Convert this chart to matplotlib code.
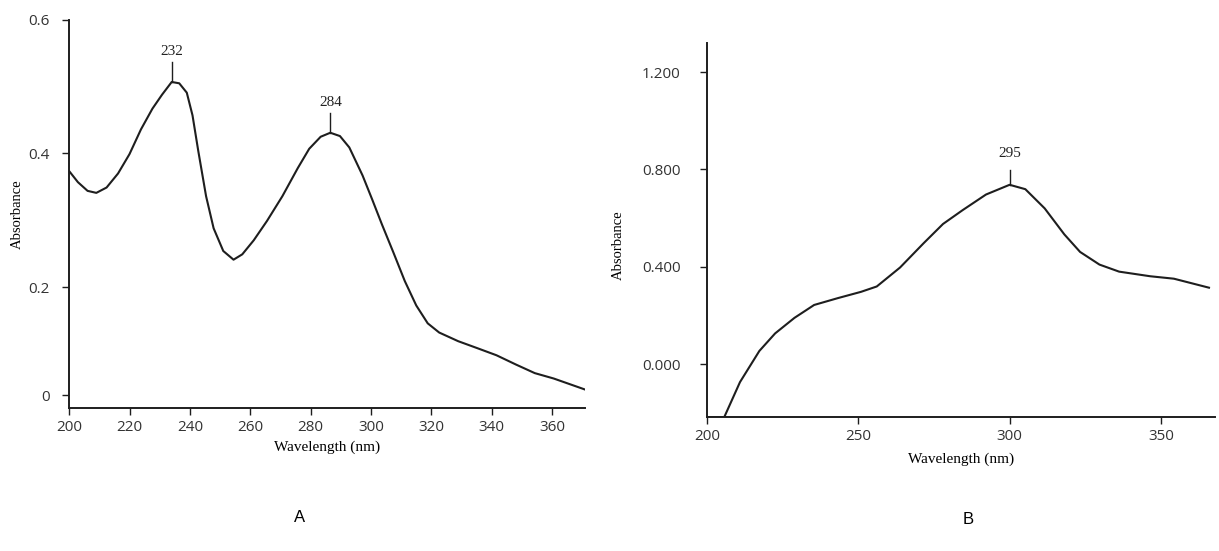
import numpy as np
import matplotlib
matplotlib.use("Agg")
import matplotlib.pyplot as plt

# panel A: spectrum with two maxima
A_WL = [200.0, 202.8, 206.0, 208.9, 212.3, 216.1, 219.9, 223.7, 227.5, 230.7,
        233.9, 236.4, 238.9, 240.8, 242.7, 245.3, 247.8, 251.0, 254.4, 257.3,
        261.1, 265.5, 270.6, 275.7, 279.5, 283.3, 286.5, 289.7, 292.8, 297.2,
        300.4, 303.6, 307.4, 311.2, 315.0, 318.8, 322.6, 328.9, 335.3, 341.6,
        348.0, 354.3, 360.6, 365.7, 370.8]
A_ABS = [0.373, 0.357, 0.344, 0.341, 0.349, 0.370, 0.399, 0.436, 0.467, 0.488,
         0.507, 0.505, 0.491, 0.457, 0.404, 0.336, 0.288, 0.254, 0.241, 0.249,
         0.270, 0.299, 0.336, 0.378, 0.407, 0.425, 0.431, 0.426, 0.409, 0.367,
         0.331, 0.294, 0.252, 0.209, 0.166, 0.133, 0.116, 0.100, 0.087, 0.074,
         0.057, 0.041, 0.031, 0.021, 0.011]
A_PEAKS = ["232", "284"]
A_PEAK_RANGES = [(220, 245), (270, 300)]
A_XTICKS = [200, 220, 240, 260, 280, 300, 320, 340, 360]
A_YTICKS = [0, 0.2, 0.4, 0.6]
A_YTICKLABELS = ["0", "0.2", "0.4", "0.6"]

# panel B: single broad maximum
B_WL = [200.0, 205.7, 210.9, 217.3, 222.5, 228.9, 235.4, 243.2, 250.9, 256.1,
        263.8, 271.6, 278.0, 284.5, 292.2, 300.0, 305.2, 311.6, 318.1, 323.3,
        329.7, 336.2, 346.5, 354.3, 365.9]
B_ABS = [-0.218, -0.218, -0.074, 0.054, 0.126, 0.190, 0.243, 0.271, 0.297, 0.319,
         0.397, 0.497, 0.576, 0.633, 0.697, 0.737, 0.719, 0.640, 0.533, 0.461,
         0.409, 0.380, 0.361, 0.351, 0.314]
B_PEAKS = ["295"]
B_PEAK_RANGES = [(280, 320)]
B_XTICKS = [200, 250, 300, 350]
B_YTICKS = [0.0, 0.4, 0.8, 1.2]
B_YTICKLABELS = ["0.000", "0.400", "0.800", "1.200"]

LINE = "#1e1e1e"
SERIF = ["Liberation Serif", "DejaVu Serif"]
TICKFONT = ["Open Sans", "DejaVu Sans"]

# the printed A axis is squeezed below 0.2 in the scan
KNEE, SQUEEZE = 0.2, 0.81


def a_fwd(y):
    y = np.asarray(y, dtype=float)
    return np.where(y >= KNEE, y, KNEE - (KNEE - y) * SQUEEZE)


def a_inv(p):
    p = np.asarray(p, dtype=float)
    return np.where(p >= KNEE, p, KNEE - (KNEE - p) / SQUEEZE)


def style_axes(ax, ypad):
    for s in ("top", "right"):
        ax.spines[s].set_visible(False)
    for s in ("left", "bottom"):
        ax.spines[s].set_linewidth(1.4)
        ax.spines[s].set_color(LINE)
    ax.tick_params(direction="out", length=5, width=1.0, color=LINE,
                   labelsize=11, labelcolor="#333333")
    ax.tick_params(axis="y", pad=ypad)
    for lab in ax.get_xticklabels() + ax.get_yticklabels():
        lab.set_family(TICKFONT)


def mark_peaks(ax, wl, ab, labels, ranges, tick_len, gap):
    wl = np.asarray(wl)
    ab = np.asarray(ab)
    for lab, (lo, hi) in zip(labels, ranges):
        sel = np.where((wl >= lo) & (wl <= hi))[0]
        i = sel[np.argmax(ab[sel])]
        ax.plot([wl[i], wl[i]], [ab[i], ab[i] + tick_len], color=LINE, lw=1.0)
        ax.text(wl[i], ab[i] + tick_len + gap, lab, ha="center", va="bottom",
                fontsize=11, family=SERIF, color="#222222")


fig = plt.figure(figsize=(12.19, 5.51), dpi=100, facecolor="white")

# ---- A ----
axA = fig.add_axes([0.057, 0.259, 0.423, 0.705])
axA.set_yscale("function", functions=(a_fwd, a_inv))
axA.plot(A_WL, A_ABS, color=LINE, lw=1.5)
axA.set_xlim(200, 371)
axA.set_ylim(-0.024, 0.6)
axA.set_xticks(A_XTICKS)
axA.set_yticks(A_YTICKS)
axA.set_yticklabels(A_YTICKLABELS)
axA.minorticks_off()
axA.set_xlabel("Wavelength (nm)", family=SERIF, fontsize=11, labelpad=4)
axA.set_ylabel("Absorbance", family=SERIF, fontsize=10.5)
axA.yaxis.set_label_coords(-0.088, 0.5)
style_axes(axA, 9)
mark_peaks(axA, A_WL, A_ABS, A_PEAKS, A_PEAK_RANGES, 0.03, 0.006)
fig.text(0.246, 0.06, "A", fontsize=12, family=["Liberation Sans"],
         ha="center", va="center")

# ---- B ----
axB = fig.add_axes([0.58, 0.243, 0.417, 0.679])
axB.plot(B_WL, B_ABS, color=LINE, lw=1.5)
axB.set_xlim(200, 368)
axB.set_ylim(-0.218, 1.32)
axB.set_xticks(B_XTICKS)
axB.set_yticks(B_YTICKS)
axB.set_yticklabels(B_YTICKLABELS)
axB.set_xlabel("Wavelength (nm)", family=SERIF, fontsize=11, labelpad=6)
axB.set_ylabel("Absorbance", family=SERIF, fontsize=10.5)
axB.yaxis.set_label_coords(-0.162, 0.46)
style_axes(axB, 14)
mark_peaks(axB, B_WL, B_ABS, B_PEAKS, B_PEAK_RANGES, 0.06, 0.04)
fig.text(0.794, 0.057, "B", fontsize=12, family=["Liberation Sans"],
         ha="center", va="center")

fig.savefig("out.png", dpi=100, facecolor="white")
